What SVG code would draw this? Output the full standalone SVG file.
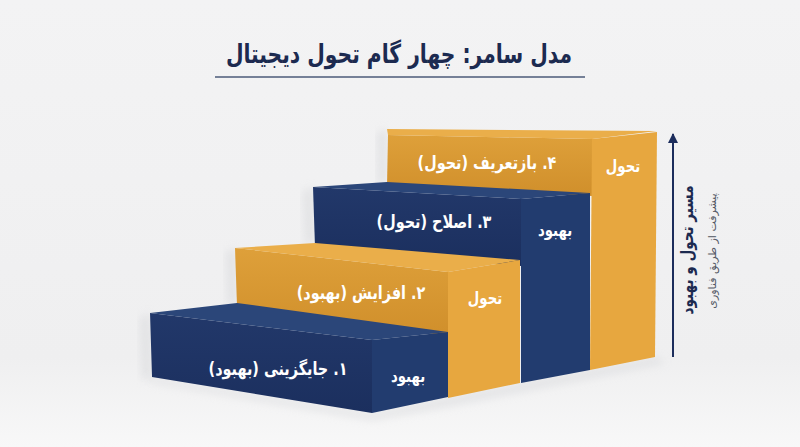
<svg xmlns="http://www.w3.org/2000/svg" width="800" height="447" viewBox="0 0 800 447">
  <defs>
    <linearGradient id="bg" x1="0" y1="0" x2="0" y2="1">
      <stop offset="0" stop-color="#f3f3f4"/>
      <stop offset="0.8" stop-color="#efeff0"/>
      <stop offset="1" stop-color="#f8f8f8"/>
    </linearGradient>
    <linearGradient id="navyFront" x1="0" y1="0" x2="0" y2="1">
      <stop offset="0" stop-color="#22386a"/>
      <stop offset="1" stop-color="#1b2f5e"/>
    </linearGradient>
    <linearGradient id="orangeFront" x1="0" y1="0" x2="0" y2="1">
      <stop offset="0" stop-color="#dea03a"/>
      <stop offset="1" stop-color="#d08f2b"/>
    </linearGradient>
    <filter id="soft" x="-20%" y="-20%" width="140%" height="140%">
      <feGaussianBlur stdDeviation="4"/>
    </filter>
    <marker id="arrowHead" viewBox="0 0 10 10" refX="9" refY="5" markerWidth="5" markerHeight="5" orient="auto">
      <path d="M0,0 L10,5 L0,10 Z" fill="#1c2d5c"/>
    </marker>
  </defs>
  <style>
    .lbl { font-family: "DejaVu Sans", sans-serif; font-weight: bold; fill: #ffffff; text-anchor: middle; }
    .step { font-size: 18px; }
    .side { font-size: 17px; }
    .navyTop { fill: #2b4679; }
    .navyFront { fill: url(#navyFront); }
    .navySide { fill: #223c6f; }
    .orTop { fill: #eaae4a; }
    .orFront { fill: url(#orangeFront); }
    .orSide { fill: #e7a73f; }
    .shadow { fill: #d8d9dc; opacity: 0.6; filter: url(#soft); }
  </style>

  <rect x="0" y="0" width="800" height="447" fill="url(#bg)"/>

  <g id="title">
    <text transform="translate(399,63) scale(0.78,1)" x="0" y="0" font-family="DejaVu Sans, sans-serif" font-weight="bold" font-size="26" fill="#1c2a50" text-anchor="middle" direction="rtl">مدل سامر: چهار گام تحول دیجیتال</text>
    <line x1="215" y1="77" x2="585" y2="77" stroke="#4b5a78" stroke-width="1.6"/>
  </g>

  <g id="shadows">
    <polygon class="shadow" points="140,318 150,313 152,377 142,380"/>
    <polygon class="shadow" points="226,252 236,248 237,303 228,306"/>
    <polygon class="shadow" points="303,191 313,187 315,242 305,245"/>
    <polygon class="shadow" points="377,133 387,129 387,182 378,185"/>
    <polygon class="shadow" points="150,377 372,413 448,397 657,357 665,363 450,406 372,420 150,382"/>
  </g>

  <g id="step4">
    <polygon class="orFront" points="388,135 592,139 592,196 387,186"/>
    <polygon class="orTop" points="387,129 657,131 592,139 388,135"/>
    <polygon class="orSide" points="592,139 657,132 655,357 590,370"/>
    <text class="lbl step" transform="translate(487,169) scale(0.8,1)" x="0" y="0" direction="rtl">۴. بازتعریف (تحول)</text>
    <text class="lbl side" transform="translate(623,172) scale(0.78,1)" x="0" y="0" direction="rtl">تحول</text>
  </g>

  <g id="step3">
    <polygon class="navyFront" points="313,187 521,199 521,266 315,247"/>
    <polygon class="navyTop" points="313,187 387,182 590,193 521,199"/>
    <polygon class="navySide" points="521,199 590,193 590,370 521,383"/>
    <text class="lbl step" transform="translate(434,228) scale(0.8,1)" x="0" y="0" direction="rtl">۳. اصلاح (تحول)</text>
    <text class="lbl side" transform="translate(555,236) scale(0.78,1)" x="0" y="0" direction="rtl">بهبود</text>
  </g>

  <g id="step2">
    <polygon class="orFront" points="235,248 448,272 448,336 237,306"/>
    <polygon class="orTop" points="235,248 315,243 520,260 448,272"/>
    <polygon class="orSide" points="448,272 520,260 520,383 448,398"/>
    <text class="lbl step" transform="translate(361,299) scale(0.8,1)" x="0" y="0" direction="rtl">۲. افزایش (بهبود)</text>
    <text class="lbl side" transform="translate(485,304) scale(0.78,1)" x="0" y="0" direction="rtl">تحول</text>
  </g>

  <g id="step1">
    <polygon class="navyFront" points="150,313 372,340 372,413 152,377"/>
    <polygon class="navyTop" points="150,313 237,303 448,332 372,340"/>
    <polygon class="navySide" points="372,340 448,332 448,397 372,413"/>
    <text class="lbl step" transform="translate(278,375) scale(0.8,1)" x="0" y="0" direction="rtl">۱. جایگزینی (بهبود)</text>
    <text class="lbl side" transform="translate(408,382) scale(0.78,1)" x="0" y="0" direction="rtl">بهبود</text>
  </g>

  <g id="connectors">
    <line x1="673" y1="357" x2="673" y2="134" stroke="#1c2d5c" stroke-width="2" marker-end="url(#arrowHead)"/>
  </g>

  <g id="axis-label">
    <text transform="translate(693,250) rotate(-90) scale(0.8,1)" x="0" y="0" font-family="DejaVu Sans, sans-serif" font-weight="bold" font-size="17" fill="#1c2a50" text-anchor="middle" direction="rtl">مسیر تحول و بهبود</text>
    <text transform="translate(716,251) rotate(-90)" x="0" y="0" font-family="DejaVu Sans, sans-serif" font-size="11" fill="#555a66" text-anchor="middle" direction="rtl">پیشرفت از طریق فناوری</text>
  </g>
</svg>
